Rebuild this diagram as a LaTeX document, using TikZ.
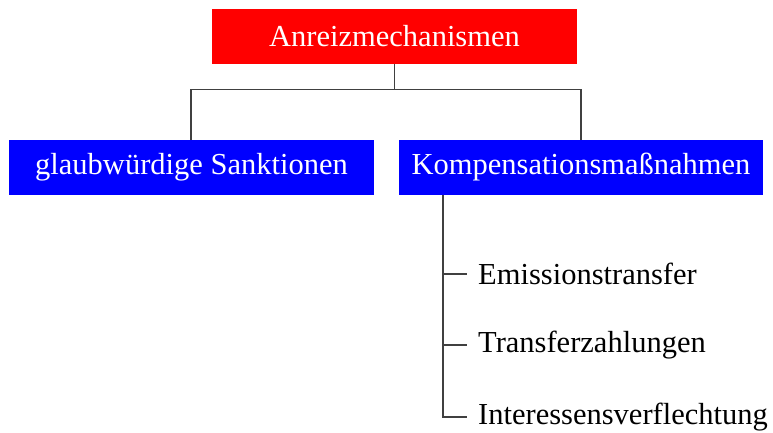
\documentclass[tikz,border=0pt]{standalone}
\usepackage{fontspec}
\setmainfont{Liberation Serif}
\begin{document}
\begin{tikzpicture}[x=1pt,y=1pt,
  box/.style={minimum width=365pt,minimum height=55pt,inner sep=0pt,text=white,font=\fontsize{30.5}{33}\selectfont},
  redbox/.style={box,fill=red},
  bluebox/.style={box,fill=blue},
  conn/.style={draw=black!75,line width=1.2pt},
  leaf/.style={anchor=west,inner sep=0pt,font=\fontsize{30.5}{33}\selectfont}]
\useasboundingbox (0,0) rectangle (773,432);
\node[redbox] (top) at (394.5,395.5) {Anreizmechanismen};
\node[bluebox] (l) at (191.5,264.5) {glaubwürdige Sanktionen};
\node[bluebox,minimum width=364pt] (r) at (581,264.5) {Kompensationsmaßnahmen};
\coordinate (hl) at (191,342.5);
\coordinate (hr) at (581,342.5);
\coordinate (hc) at (394.5,342.5);
\draw[conn] (top.south) -- (hc);
\draw[conn] (l.north -| hl) -- (hl) -- (hr) -- (r.north -| hr);
\node[leaf] (a) at (478,158) {Emissionstransfer};
\node[leaf] (b) at (478,87) {Transferzahlungen};
\node[leaf] (c) at (478,15) {Interessensverflechtung};
\coordinate (v) at (443,237);
\draw[conn] (v) -- (443,15) -- ([xshift=-11pt]c.west);
\draw[conn] (443,158) -- ([xshift=-11pt]a.west);
\draw[conn] (443,87) -- ([xshift=-11pt]b.west);
\end{tikzpicture}
\end{document}
